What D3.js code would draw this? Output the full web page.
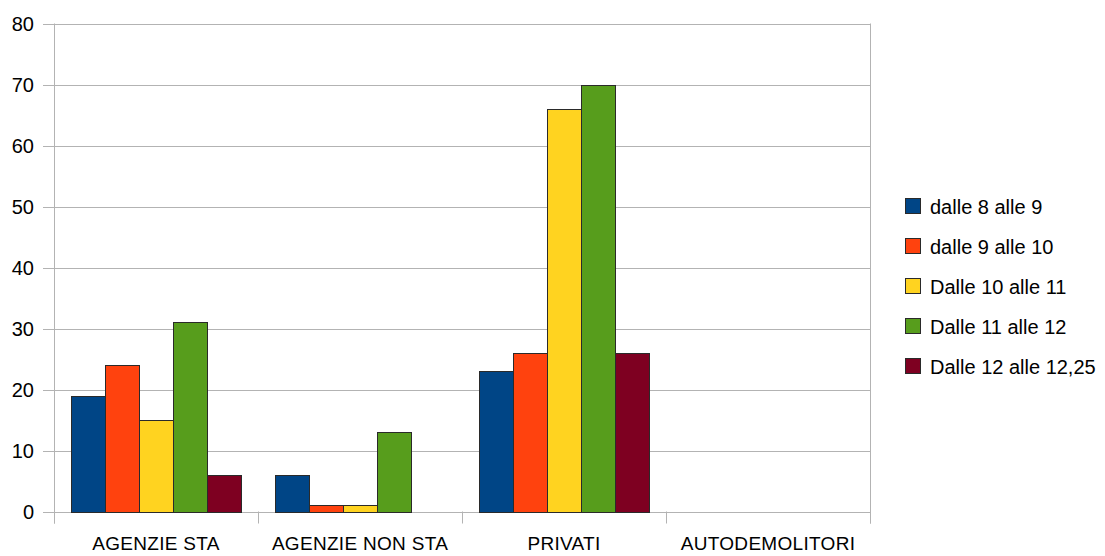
<!DOCTYPE html>
<html><head><meta charset="utf-8">
<script src="https://cdn.jsdelivr.net/npm/d3@7"></script>
<style>body{margin:0;background:#fff;}svg{display:block;font-family:"Liberation Sans",Arial,sans-serif;}</style>
</head><body><svg id="c" width="1105" height="556"></svg>
<script>
const categories = ["AGENZIE STA", "AGENZIE NON STA", "PRIVATI", "AUTODEMOLITORI"];
const seriesNames = ["dalle 8 alle 9", "dalle 9 alle 10", "Dalle 10 alle 11", "Dalle 11 alle 12", "Dalle 12 alle 12,25"];
const s1 = [19, 6, 23, 0];
const s2 = [24, 1, 26, 0];
const s3 = [15, 1, 66, 0];
const s4 = [31, 13, 70, 0];
const s5 = [6, 0, 26, 0];
const seriesValues = [s1, s2, s3, s4, s5];
const colors = ["#004586", "#ff420e", "#ffd320", "#579d1c", "#7e0021"];
const yTicks = [0, 10, 20, 30, 40, 50, 60, 70, 80];

const svg = d3.select("#c");
const L = 54, R = 870, T = 23.5, B = 511.5;
const x0 = d3.scaleBand().domain(categories).range([L, R]).paddingInner(0).paddingOuter(0);
const x1 = d3.scaleBand().domain(d3.range(seriesNames.length)).range([17, x0.bandwidth() - 17]);
const y = d3.scaleLinear().domain([0, 80]).range([B, T]);

// gridlines + left ticks
svg.append("g").selectAll("line").data(yTicks).join("line")
  .attr("x1", L - 11).attr("x2", R + 0.5).attr("y1", d => Math.round(y(d)) + 0.5).attr("y2", d => Math.round(y(d)) + 0.5)
  .attr("stroke", "#b3b3b3").attr("stroke-width", 1);
// left and right axis lines
svg.append("line").attr("x1", L + 0.5).attr("x2", L + 0.5).attr("y1", T).attr("y2", B + 12).attr("stroke", "#b3b3b3");
svg.append("line").attr("x1", R + 0.5).attr("x2", R + 0.5).attr("y1", T).attr("y2", B + 12).attr("stroke", "#b3b3b3");
// bottom category ticks
const bounds = categories.map(c => x0(c)).concat([R]);
svg.append("g").selectAll("line").data(bounds).join("line")
  .attr("x1", d => Math.round(d) + 0.5).attr("x2", d => Math.round(d) + 0.5).attr("y1", B).attr("y2", B + 12)
  .attr("stroke", "#b3b3b3");

// y labels
svg.append("g").selectAll("text").data(yTicks).join("text")
  .attr("x", 34).attr("y", d => y(d)).attr("dy", "0.36em").attr("text-anchor", "end")
  .attr("font-size", 20).attr("fill", "#000").text(d => d);

// x labels
svg.append("g").selectAll("text").data(categories).join("text")
  .attr("x", d => x0(d) + x0.bandwidth() / 2).attr("y", 550).attr("text-anchor", "middle")
  .attr("font-size", 19).attr("letter-spacing", "0.3px").attr("fill", "#000").text(d => d);

// bars
const g = svg.append("g");
categories.forEach((cat, ci) => {
  seriesValues.forEach((vals, si) => {
    const v = vals[ci];
    if (v <= 0) return;
    const xx = Math.round(x0(cat) + x1(si)) + 0.5;
    const yy = Math.round(y(v)) + 0.5;
    g.append("rect").attr("x", xx).attr("y", yy)
      .attr("width", Math.round(x1.bandwidth())).attr("height", Math.round(y(0)) + 0.5 - yy)
      .attr("fill", colors[si]).attr("stroke", "#2a2a2a").attr("stroke-width", 1);
  });
});

// legend
const lg = svg.append("g");
seriesNames.forEach((n, i) => {
  const cy = 206 + i * 40;
  lg.append("rect").attr("x", 905.5).attr("y", cy - 7.5).attr("width", 15).attr("height", 15)
    .attr("fill", colors[i]).attr("stroke", "#2a2a2a");
  lg.append("text").attr("x", 930).attr("y", cy + 1).attr("dy", "0.36em").attr("font-size", 20).attr("fill", "#000").text(n);
});
</script></body></html>
